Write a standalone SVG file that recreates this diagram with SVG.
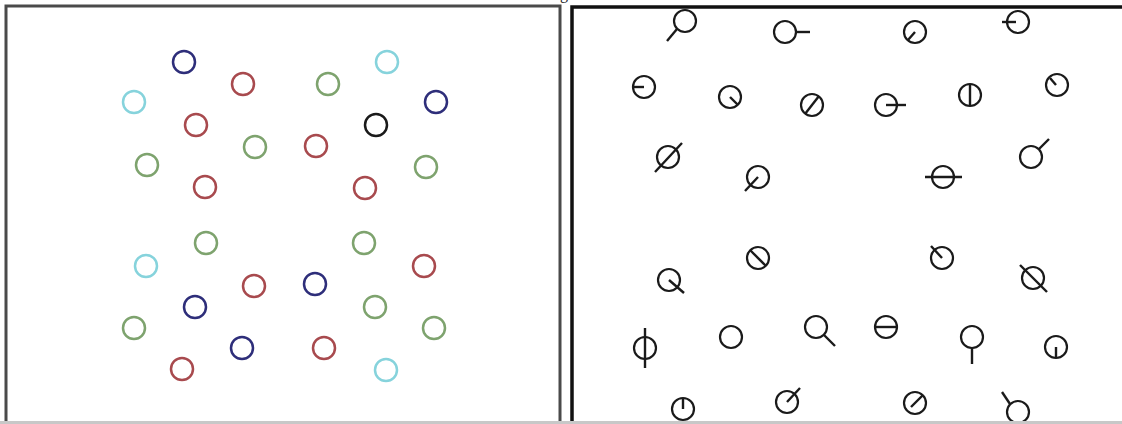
<svg xmlns="http://www.w3.org/2000/svg" width="1122" height="424" viewBox="0 0 1122 424">
<style>
.lp{fill:none;stroke:#4a4a4a;stroke-width:3}
.rp{fill:none;stroke:#111;stroke-width:3.5}
.c{fill:none;stroke-width:2.5}
.b{stroke:#2e2e7a}.cy{stroke:#86d3dc}.r{stroke:#a84a4e}.g{stroke:#7ea36e}.k{stroke:#1a1a1a}
.s circle{fill:none;stroke:#1a1a1a;stroke-width:2.2}
.s line{stroke:#1a1a1a;stroke-width:2.4;stroke-linecap:butt}
</style>
<rect width="1122" height="424" fill="#fff"/>
<text x="560" y="-1" font-family="Liberation Serif, serif" font-size="16" fill="#222">g</text>
<g id="left-panel">
<rect class="lp" x="6" y="6" width="554" height="440"/>
<g id="left-circles">
<circle class="c b" cx="184" cy="62" r="11"/>
<circle class="c cy" cx="387" cy="62" r="11"/>
<circle class="c cy" cx="134" cy="102" r="11"/>
<circle class="c r" cx="243" cy="84" r="11"/>
<circle class="c g" cx="328" cy="84" r="11"/>
<circle class="c b" cx="436" cy="102" r="11"/>
<circle class="c r" cx="196" cy="125" r="11"/>
<circle class="c k" cx="376" cy="125" r="11"/>
<circle class="c g" cx="147" cy="165" r="11"/>
<circle class="c g" cx="255" cy="147" r="11"/>
<circle class="c r" cx="316" cy="146" r="11"/>
<circle class="c g" cx="426" cy="167" r="11"/>
<circle class="c r" cx="205" cy="187" r="11"/>
<circle class="c r" cx="365" cy="188" r="11"/>
<circle class="c g" cx="206" cy="243" r="11"/>
<circle class="c g" cx="364" cy="243" r="11"/>
<circle class="c cy" cx="146" cy="266" r="11"/>
<circle class="c r" cx="424" cy="266" r="11"/>
<circle class="c r" cx="254" cy="286" r="11"/>
<circle class="c b" cx="315" cy="284" r="11"/>
<circle class="c b" cx="195" cy="307" r="11"/>
<circle class="c g" cx="375" cy="307" r="11"/>
<circle class="c g" cx="134" cy="328" r="11"/>
<circle class="c g" cx="434" cy="328" r="11"/>
<circle class="c b" cx="242" cy="348" r="11"/>
<circle class="c r" cx="324" cy="348" r="11"/>
<circle class="c r" cx="182" cy="369" r="11"/>
<circle class="c cy" cx="386" cy="370" r="11"/>
</g>
</g>
<g id="right-panel">
<rect class="rp" x="572" y="7" width="560" height="440"/>
<g id="s1" class="s"><circle cx="685" cy="21" r="11"/><line x1="677" y1="29" x2="667" y2="41"/></g>
<g id="s2" class="s"><circle cx="785" cy="32" r="11"/><line x1="796" y1="32" x2="810" y2="32"/></g>
<g id="s3" class="s"><circle cx="915" cy="32" r="11"/><line x1="908" y1="40" x2="915" y2="32"/></g>
<g id="s4" class="s"><circle cx="1018" cy="22" r="11"/><line x1="1002" y1="22" x2="1016" y2="22"/></g>
<g id="s5" class="s"><circle cx="644" cy="87" r="11"/><line x1="633" y1="87" x2="644" y2="87"/></g>
<g id="s6" class="s"><circle cx="730" cy="97" r="11"/><line x1="730" y1="97" x2="738" y2="105"/></g>
<g id="s7" class="s"><circle cx="812" cy="105" r="11"/><line x1="805" y1="114" x2="819" y2="96"/></g>
<g id="s8" class="s"><circle cx="886" cy="105" r="11"/><line x1="886" y1="105" x2="906" y2="105"/></g>
<g id="s9" class="s"><circle cx="970" cy="95" r="11"/><line x1="970" y1="84" x2="970" y2="106"/></g>
<g id="s10" class="s"><circle cx="1057" cy="85" r="11"/><line x1="1050" y1="78" x2="1056" y2="85"/></g>
<g id="s11" class="s"><circle cx="668" cy="157" r="11"/><line x1="655" y1="172" x2="682" y2="143"/></g>
<g id="s12" class="s"><circle cx="758" cy="177" r="11"/><line x1="758" y1="177" x2="745" y2="191"/></g>
<g id="s13" class="s"><circle cx="943" cy="177" r="11"/><line x1="925" y1="177" x2="962" y2="177"/></g>
<g id="s14" class="s"><circle cx="1031" cy="157" r="11"/><line x1="1039" y1="149" x2="1049" y2="139"/></g>
<g id="s15" class="s"><circle cx="669" cy="280" r="11"/><line x1="669" y1="280" x2="684" y2="293"/></g>
<g id="s16" class="s"><circle cx="758" cy="258" r="11"/><line x1="750" y1="250" x2="766" y2="266"/></g>
<g id="s17" class="s"><circle cx="942" cy="258" r="11"/><line x1="931" y1="246" x2="942" y2="258"/></g>
<g id="s18" class="s"><circle cx="1033" cy="278" r="11"/><line x1="1020" y1="265" x2="1047" y2="292"/></g>
<g id="s19" class="s"><circle cx="645" cy="348" r="11"/><line x1="645" y1="328" x2="645" y2="368"/></g>
<g id="s20" class="s"><circle cx="731" cy="337" r="11"/></g>
<g id="s21" class="s"><circle cx="816" cy="327" r="11"/><line x1="824" y1="335" x2="835" y2="346"/></g>
<g id="s22" class="s"><circle cx="886" cy="327" r="11"/><line x1="875" y1="327" x2="897" y2="327"/></g>
<g id="s23" class="s"><circle cx="972" cy="337" r="11"/><line x1="972" y1="348" x2="972" y2="364"/></g>
<g id="s24" class="s"><circle cx="1056" cy="347" r="11"/><line x1="1056" y1="347" x2="1056" y2="358"/></g>
<g id="s25" class="s"><circle cx="683" cy="409" r="11"/><line x1="683" y1="398" x2="683" y2="409"/></g>
<g id="s26" class="s"><circle cx="787" cy="402" r="11"/><line x1="787" y1="402" x2="800" y2="388"/></g>
<g id="s27" class="s"><circle cx="915" cy="403" r="11"/><line x1="911" y1="407" x2="923" y2="395"/></g>
<g id="s28" class="s"><circle cx="1018" cy="412" r="11"/><line x1="1002" y1="392" x2="1010" y2="404"/></g>
</g>
<line x1="0" y1="422.5" x2="1122" y2="422.5" stroke="#c8c8c8" stroke-width="3"/>
</svg>
